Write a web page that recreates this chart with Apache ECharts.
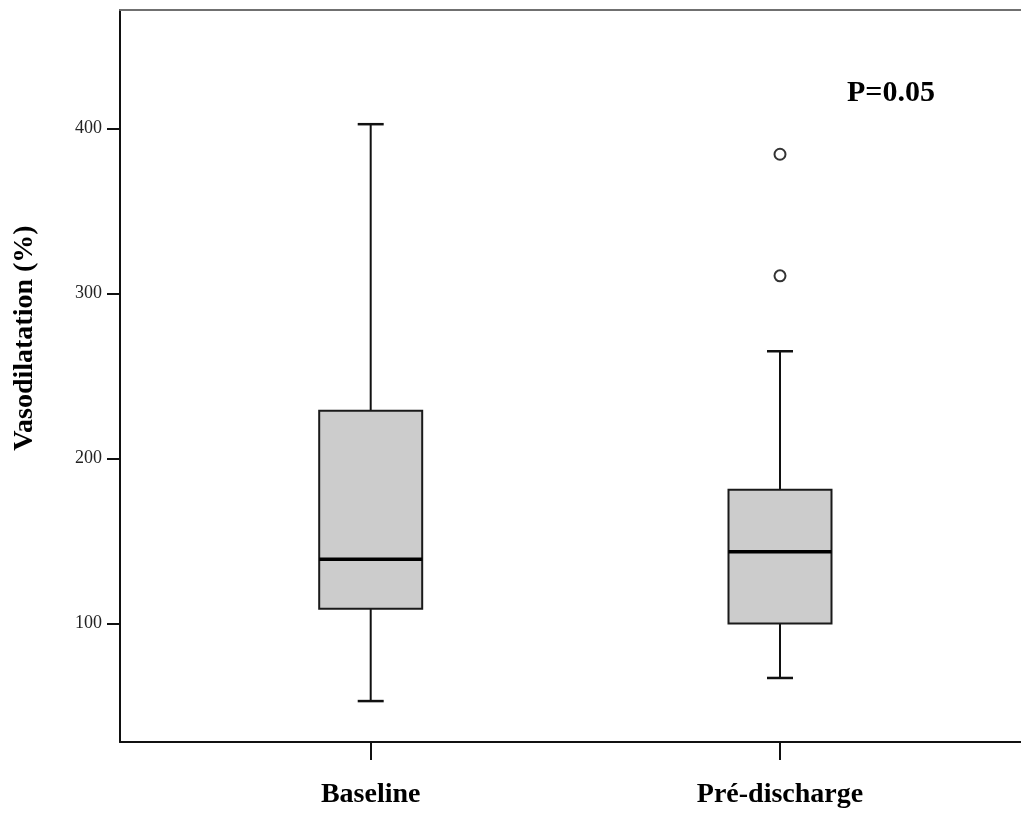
<!DOCTYPE html>
<html>
<head>
<meta charset="utf-8">
<script src="https://cdn.jsdelivr.net/npm/echarts@6/dist/echarts.min.js"></script>
<style>
  html, body { margin: 0; padding: 0; background: #ffffff; }
  #chart { width: 1021px; height: 814px; }
</style>
</head>
<body>
<div id="chart"></div>
<script>
// Groups and their positions on the horizontal axis
const categories = ['Baseline', 'Pré-discharge'];
const positions = [1, 2];

// Five-number summaries per group
const whiskerLow = [53, 67];
const quartile1 = [109, 100];
const medians = [139, 143.5];
const quartile3 = [229, 181];
const whiskerHigh = [402.6, 265];

// Outlying observations: [position, value]
const outliers = [[2, 310.7], [2, 384.4]];

// Y-axis tick values
const yTicks = [100, 200, 300, 400];

const serif = "'Liberation Serif', 'Times New Roman', serif";

const boxRows = positions.map((p, i) => [
  p, whiskerLow[i], quartile1[i], medians[i], quartile3[i], whiskerHigh[i]
]);

function renderBox(params, api) {
  const x = api.value(0);
  const lo = api.coord([x, api.value(1)]);
  const q1 = api.coord([x, api.value(2)]);
  const md = api.coord([x, api.value(3)]);
  const q3 = api.coord([x, api.value(4)]);
  const hi = api.coord([x, api.value(5)]);
  const cx = lo[0];
  const half = 51.5;
  const cap = 13;
  const ink = '#111111';
  return {
    type: 'group',
    children: [
      { type: 'line', shape: { x1: cx, y1: hi[1], x2: cx, y2: q3[1] }, style: { stroke: ink, lineWidth: 2 } },
      { type: 'line', shape: { x1: cx - cap, y1: hi[1], x2: cx + cap, y2: hi[1] }, style: { stroke: ink, lineWidth: 2.5 } },
      { type: 'line', shape: { x1: cx, y1: q1[1], x2: cx, y2: lo[1] }, style: { stroke: ink, lineWidth: 2 } },
      { type: 'line', shape: { x1: cx - cap, y1: lo[1], x2: cx + cap, y2: lo[1] }, style: { stroke: ink, lineWidth: 2.5 } },
      { type: 'rect', shape: { x: cx - half, y: q3[1], width: half * 2, height: q1[1] - q3[1] },
        style: { fill: '#cccccc', stroke: '#1a1a1a', lineWidth: 2 } },
      { type: 'line', shape: { x1: cx - half, y1: md[1], x2: cx + half, y2: md[1] }, style: { stroke: '#000000', lineWidth: 3.5 } }
    ]
  };
}

const chart = echarts.init(document.getElementById('chart'), null, { renderer: 'canvas' });

chart.setOption({
  backgroundColor: '#ffffff',
  animation: false,
  grid: { left: 120, top: 10, right: 0, bottom: 72 },
  xAxis: [
    {
      type: 'value',
      min: 0.3875,
      max: 2.5888,
      splitLine: { show: false },
      axisLine: { show: true, onZero: false, lineStyle: { color: '#111111', width: 2 } },
      axisTick: { show: true, customValues: positions, length: 18, lineStyle: { color: '#111111', width: 2 } },
      axisLabel: {
        customValues: positions,
        margin: 39,
        formatter: v => categories[positions.indexOf(Math.round(v))] || '',
        fontFamily: serif, fontWeight: 'bold', fontSize: 28, color: '#000000'
      }
    },
    {
      type: 'value',
      position: 'top',
      min: 0.3875,
      max: 2.5888,
      splitLine: { show: false },
      axisLine: { show: true, onZero: false, lineStyle: { color: '#707070', width: 2 } },
      axisTick: { show: false },
      axisLabel: { show: false }
    }
  ],
  yAxis: {
    type: 'value',
    min: 28.2,
    max: 471.8,
    splitLine: { show: false },
    axisLine: { show: true, onZero: false, lineStyle: { color: '#111111', width: 2 } },
    axisTick: { show: true, customValues: yTicks, length: 13, lineStyle: { color: '#111111', width: 2 } },
    axisLabel: {
      customValues: yTicks,
      margin: 18,
      fontFamily: serif, fontSize: 18, color: '#222222'
    }
  },
  graphic: [
    {
      type: 'text',
      x: 25, y: 338,
      rotation: Math.PI / 2,
      style: {
        text: 'Vasodilatation (%)',
        font: "bold 28px 'Liberation Serif', 'Times New Roman', serif",
        fill: '#000000', align: 'center', verticalAlign: 'middle'
      }
    },
    {
      type: 'text',
      x: 847, y: 93,
      style: {
        text: 'P=0.05',
        font: "bold 30px 'Liberation Serif', 'Times New Roman', serif",
        fill: '#000000', align: 'left', verticalAlign: 'middle'
      }
    }
  ],
  series: [
    {
      type: 'custom',
      xAxisIndex: 0,
      renderItem: renderBox,
      encode: { x: 0, y: [1, 2, 3, 4, 5] },
      data: boxRows,
      z: 2
    },
    {
      type: 'scatter',
      xAxisIndex: 0,
      symbol: 'circle',
      symbolSize: 11,
      itemStyle: { color: '#ffffff', borderColor: '#000000', borderWidth: 2 },
      data: outliers,
      z: 3
    }
  ]
});
</script>
</body>
</html>
